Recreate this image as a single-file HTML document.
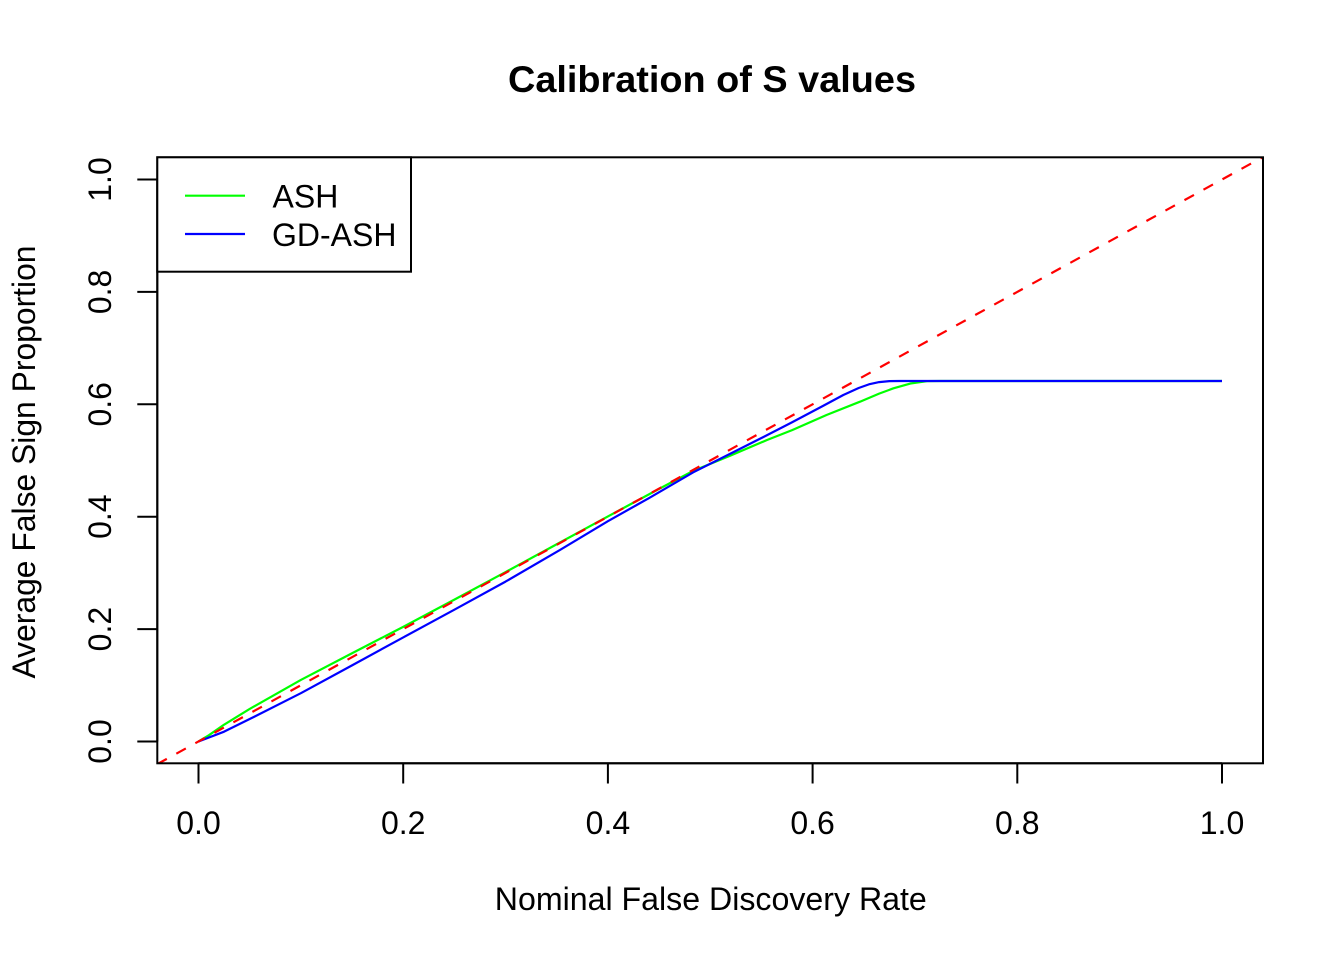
<!DOCTYPE html>
<html>
<head>
<meta charset="utf-8">
<style>
  html, body { margin: 0; padding: 0; background: #ffffff; }
  svg { display: block; }
  text { font-family: "Liberation Sans", Arial, Helvetica, sans-serif; fill: #000; }
</style>
</head>
<body>
<svg width="1344" height="960" viewBox="0 0 1344 960" xmlns="http://www.w3.org/2000/svg">
  <defs>
    <clipPath id="plotclip">
      <rect x="157.3" y="157.3" width="1105.7" height="606"/>
    </clipPath>
  </defs>
  <rect x="0" y="0" width="1344" height="960" fill="#ffffff"/>

  <!-- Title -->
  <text x="712" y="92" font-size="37" font-weight="bold" text-anchor="middle" textLength="408" lengthAdjust="spacingAndGlyphs">Calibration of S values</text>

  <!-- Series -->
  <g clip-path="url(#plotclip)" fill="none" stroke-linejoin="round" stroke-linecap="butt">
    <polyline stroke="#00FF00" stroke-width="2.2" points="
      198.5,741.5 208.74,735.32 224.09,724.64 249.68,708.9 300.85,679.96 352.03,653.27
      403.2,626.85 454.38,599.6 505.55,572.06 556.73,544.24 607.9,516.42 659.08,488.88
      693.26,470.9 730.72,455.44 767.05,440.0 792.13,430.15 826.52,414.98 859.99,401.71
      879.13,393.62 893.45,388.34 910.35,383.51 926.93,381.15 940.55,380.97 1222,380.97"/>
    <polyline stroke="#0000FF" stroke-width="2.2" points="
      198.5,741.5 224.09,731.67 249.68,719.02 300.85,693.17 352.03,665.35 403.2,637.42
      454.38,609.71 505.55,581.61 559.8,550.03 607.9,521.2 648.84,498.15 693.26,472.3
      730.72,453.5 761.43,438.02 792.13,422.28 822.84,405.99 843.31,394.97 858.66,388.0
      868.89,384.35 879.13,382.1 889.36,381.15 899.6,380.98 1222,380.98"/>
    <line x1="157.3" y1="764.1" x2="1263" y2="157.0" stroke="#FF0000" stroke-width="2.2" stroke-dasharray="10.85,10.85"/>
  </g>

  <!-- Box -->
  <rect x="157.3" y="157.3" width="1105.7" height="606" fill="none" stroke="#000" stroke-width="2"/>

  <!-- X axis -->
  <g stroke="#000" stroke-width="2" fill="none">
    <line x1="198.5" y1="763.3" x2="1222" y2="763.3"/>
    <line x1="198.5" y1="763.3" x2="198.5" y2="783.5"/>
    <line x1="403.2" y1="763.3" x2="403.2" y2="783.5"/>
    <line x1="607.9" y1="763.3" x2="607.9" y2="783.5"/>
    <line x1="812.6" y1="763.3" x2="812.6" y2="783.5"/>
    <line x1="1017.3" y1="763.3" x2="1017.3" y2="783.5"/>
    <line x1="1222" y1="763.3" x2="1222" y2="783.5"/>
  </g>
  <g font-size="32" text-anchor="middle">
    <text x="198.5" y="834">0.0</text>
    <text x="403.2" y="834">0.2</text>
    <text x="607.9" y="834">0.4</text>
    <text x="812.6" y="834">0.6</text>
    <text x="1017.3" y="834">0.8</text>
    <text x="1222" y="834">1.0</text>
  </g>

  <!-- Y axis -->
  <g stroke="#000" stroke-width="2" fill="none">
    <line x1="157.3" y1="741.5" x2="157.3" y2="179.5"/>
    <line x1="137.3" y1="741.5" x2="157.3" y2="741.5"/>
    <line x1="137.3" y1="629.1" x2="157.3" y2="629.1"/>
    <line x1="137.3" y1="516.7" x2="157.3" y2="516.7"/>
    <line x1="137.3" y1="404.3" x2="157.3" y2="404.3"/>
    <line x1="137.3" y1="291.9" x2="157.3" y2="291.9"/>
    <line x1="137.3" y1="179.5" x2="157.3" y2="179.5"/>
  </g>
  <g font-size="32" text-anchor="middle">
    <text transform="translate(111,741.5) rotate(-90)">0.0</text>
    <text transform="translate(111,629.1) rotate(-90)">0.2</text>
    <text transform="translate(111,516.7) rotate(-90)">0.4</text>
    <text transform="translate(111,404.3) rotate(-90)">0.6</text>
    <text transform="translate(111,291.9) rotate(-90)">0.8</text>
    <text transform="translate(111,179.5) rotate(-90)">1.0</text>
  </g>

  <!-- Axis labels -->
  <text x="710.8" y="910" font-size="32" text-anchor="middle" textLength="432" lengthAdjust="spacingAndGlyphs">Nominal False Discovery Rate</text>
  <text transform="translate(35,462) rotate(-90)" font-size="32" text-anchor="middle" textLength="433" lengthAdjust="spacingAndGlyphs">Average False Sign Proportion</text>

  <!-- Legend -->
  <rect x="157.3" y="157.3" width="253.7" height="114.4" fill="#ffffff" stroke="#000" stroke-width="2"/>
  <line x1="185" y1="195.7" x2="245" y2="195.7" stroke="#00FF00" stroke-width="2.2"/>
  <line x1="185" y1="234" x2="245" y2="234" stroke="#0000FF" stroke-width="2.2"/>
  <text x="272.5" y="207.5" font-size="32">ASH</text>
  <text x="272" y="245.8" font-size="32">GD-ASH</text>
</svg>
</body>
</html>
